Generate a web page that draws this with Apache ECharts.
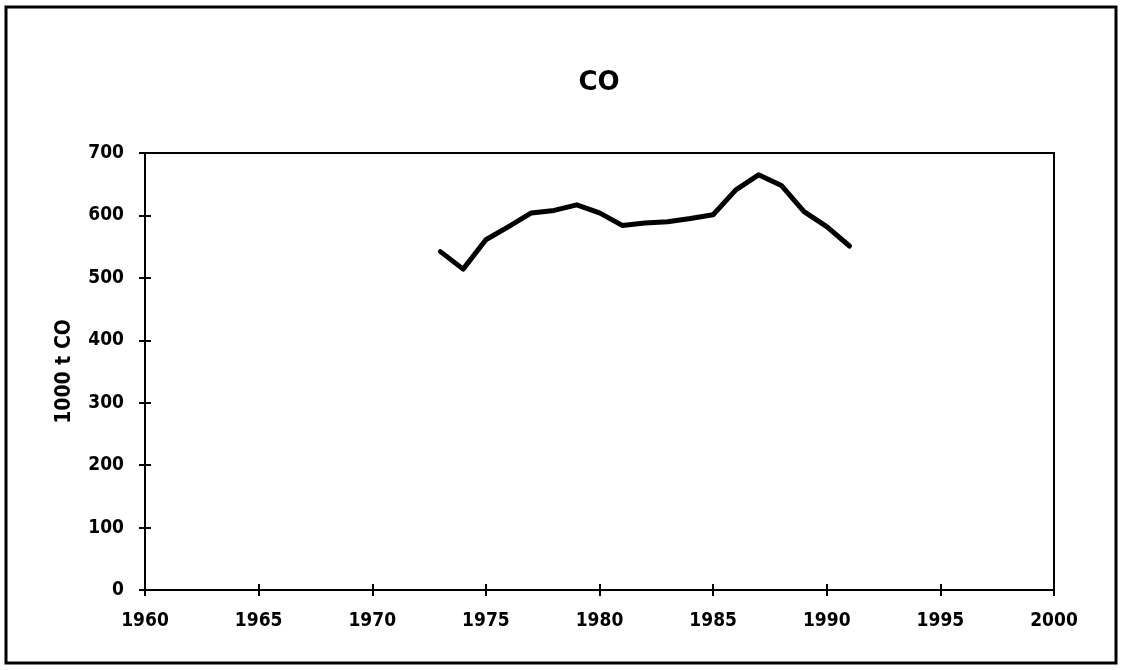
<!DOCTYPE html>
<html>
<head>
<meta charset="utf-8">
<script src="https://cdn.jsdelivr.net/npm/echarts@6/dist/echarts.min.js"></script>
<style>
  html, body { margin: 0; padding: 0; background: #fff; }
  #chart { width: 1123px; height: 670px; }
</style>
</head>
<body>
<div id="chart"></div>
<script>
const years = [1973, 1974, 1975, 1976, 1977, 1978, 1979, 1980, 1981, 1982, 1983, 1984, 1985, 1986, 1987, 1988, 1989, 1990, 1991]
const coValues = [542, 514, 561, 582, 604, 608, 617, 604, 584, 588, 590, 595, 601, 641, 665, 648, 606, 582, 551]
const yTicks = [0, 100, 200, 300, 400, 500, 600, 700]
const xTicks = [1960, 1965, 1970, 1975, 1980, 1985, 1990, 1995, 2000]

const labelFont = {
  color: '#000',
  fontFamily: 'DejaVu Sans Condensed',
  fontWeight: 'bold',
  fontSize: 19
}

const chart = echarts.init(document.getElementById('chart'))

const axisLine = { lineStyle: { color: '#000', width: 2 } }
const tickStyle = { lineStyle: { color: '#000', width: 2 } }

chart.setOption({
  animation: false,
  title: {
    text: 'CO',
    left: 594,
    top: 65,
    textAlign: 'center',
    textStyle: {
      color: '#000',
      fontFamily: 'DejaVu Sans',
      fontWeight: 'bold',
      fontSize: 26
    }
  },
  graphic: [{
    type: 'rect',
    shape: { x: 6, y: 7, width: 1110, height: 656 },
    style: { fill: 'none', stroke: '#000', lineWidth: 3 },
    silent: true
  }],
  grid: {
    left: 145,
    right: 69,
    top: 153,
    bottom: 80,
    show: true,
    borderColor: '#000',
    borderWidth: 2
  },
  xAxis: [{
    type: 'value',
    min: xTicks[0],
    max: xTicks[xTicks.length - 1],
    interval: 5,
    axisLine: axisLine,
    axisTick: { show: true, length: 6, lineStyle: tickStyle.lineStyle },
    axisLabel: Object.assign({ margin: 22, formatter: v => String(v) }, labelFont),
    splitLine: { show: false }
  }, {
    type: 'value',
    position: 'bottom',
    min: xTicks[0],
    max: xTicks[xTicks.length - 1],
    interval: 5,
    axisLine: { show: false },
    axisTick: { show: true, inside: true, length: 6, lineStyle: tickStyle.lineStyle },
    axisLabel: { show: false },
    splitLine: { show: false }
  }],
  yAxis: [{
    type: 'value',
    min: yTicks[0],
    max: yTicks[yTicks.length - 1],
    interval: 100,
    name: '1000 t CO',
    nameLocation: 'middle',
    nameGap: 70,
    nameTextStyle: {
      color: '#000',
      fontFamily: 'DejaVu Sans Condensed',
      fontWeight: 'bold',
      fontSize: 21
    },
    axisLine: { show: true, lineStyle: axisLine.lineStyle },
    axisTick: { show: true, length: 6, lineStyle: tickStyle.lineStyle },
    axisLabel: Object.assign({ margin: 21 }, labelFont),
    splitLine: { show: false }
  }, {
    type: 'value',
    position: 'left',
    min: yTicks[0],
    max: yTicks[yTicks.length - 1],
    interval: 100,
    axisLine: { show: false },
    axisTick: { show: true, inside: true, length: 6, lineStyle: tickStyle.lineStyle },
    axisLabel: { show: false },
    splitLine: { show: false }
  }],
  series: [{
    type: 'line',
    data: years.map((y, i) => [y, coValues[i]]),
    showSymbol: false,
    lineStyle: { color: '#000', width: 5, join: 'round', cap: 'round' }
  }]
})
</script>
</body>
</html>
